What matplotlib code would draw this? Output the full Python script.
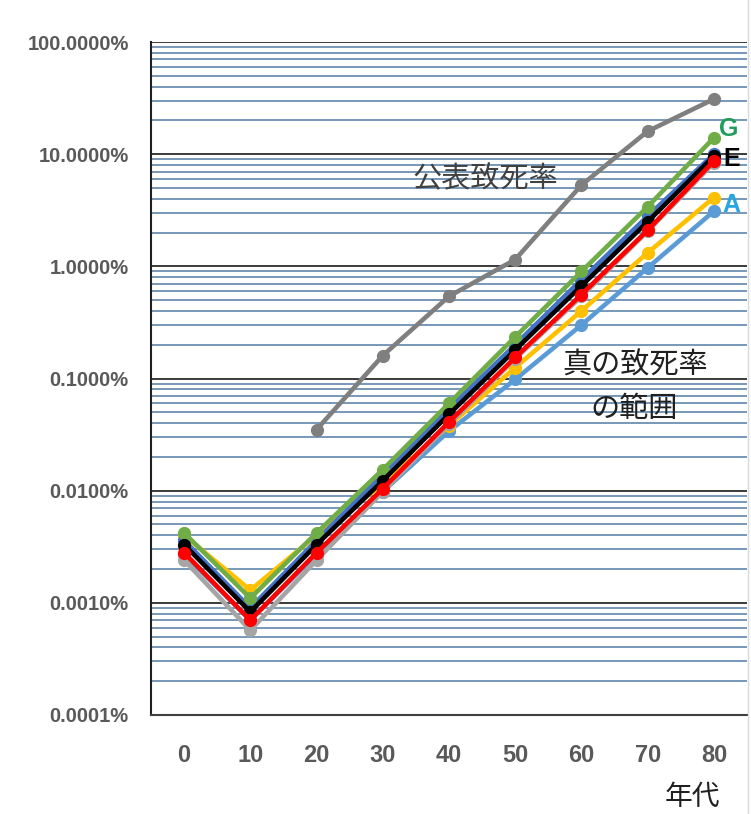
import matplotlib
matplotlib.use("Agg")
import matplotlib.pyplot as plt
from matplotlib.lines import Line2D
from matplotlib.ticker import FixedLocator, LogLocator, NullFormatter, FuncFormatter

ages = ["0", "10", "20", "30", "40", "50", "60", "70", "80"]

# values in percent
public_rate = [None, None, 0.035, 0.16, 0.54, 1.15, 5.3, 16.0, 31.0]
series_A = [0.0027, 0.0007, 0.0027, 0.0098, 0.034, 0.098, 0.30, 0.97, 3.1]
series_B = [0.0040, 0.0013, 0.0040, 0.0115, 0.038, 0.125, 0.40, 1.32, 4.1]
series_C = [0.0024, 0.00057, 0.0024, 0.0098, 0.039, 0.150, 0.54, 2.05, 8.4]
series_D = [0.0036, 0.0009, 0.0036, 0.0140, 0.054, 0.200, 0.76, 2.80, 10.0]
series_G = [0.0042, 0.0011, 0.0042, 0.0154, 0.060, 0.235, 0.90, 3.40, 14.0]
series_E = [0.0033, 0.00083, 0.0033, 0.0123, 0.048, 0.180, 0.67, 2.50, 9.6]
series_F = [0.0028, 0.0007, 0.0028, 0.0104, 0.041, 0.154, 0.56, 2.10, 8.7]

y_ticks = [0.0001, 0.001, 0.01, 0.1, 1, 10, 100]

W, H = 751, 814
fig = plt.figure(figsize=(W / 100, H / 100), dpi=100)
ax = fig.add_axes([151 / W, 99 / H, 596 / W, 673 / H])

x = list(range(len(ages)))
lw = 3.3
ms = 8.5

def plot_series(vals, color, z):
    xs = [i for i, v in zip(x, vals) if v is not None]
    ys = [v for v in vals if v is not None]
    ax.plot(xs, ys, color=color, lw=lw, marker="o", ms=ms, zorder=z,
            solid_joinstyle="round", clip_on=False)

plot_series(public_rate, "#7F7F7F", 3)
plot_series(series_A, "#5B9BD5", 4)
plot_series(series_B, "#FFC000", 5)
plot_series(series_C, "#A5A5A5", 6)
plot_series(series_D, "#4472C4", 7)
plot_series(series_G, "#70AD47", 8)
plot_series(series_E, "#000000", 9)
plot_series(series_F, "#FF0000", 10)

ax.set_yscale("log")
ax.set_ylim(0.0001, 100)
ax.set_xlim(-0.5, 8.5)

ax.yaxis.set_major_locator(FixedLocator(y_ticks))
ax.yaxis.set_minor_locator(LogLocator(base=10, subs=range(2, 10), numticks=20))
ax.yaxis.set_minor_formatter(NullFormatter())
ax.yaxis.set_major_formatter(FuncFormatter(lambda v, p: f"{v:.4f}%"))

ax.set_xticks(x)
ax.set_xticklabels(ages)

ax.grid(True, which="major", axis="y", color="#3A3A3A", lw=1.4, zorder=1)
ax.grid(True, which="minor", axis="y", color="#5F86AC", lw=1.2, zorder=1)
ax.set_axisbelow(True)

for s in ["top", "right"]:
    ax.spines[s].set_visible(False)
ax.spines["left"].set_color("#202020")
ax.spines["left"].set_linewidth(1.5)
ax.spines["bottom"].set_color("#404040")
ax.spines["bottom"].set_linewidth(1.5)

ax.tick_params(axis="both", which="both", length=0)
ax.tick_params(axis="y", pad=16, labelsize=14.5, labelcolor="#595959")
ax.tick_params(axis="x", pad=21, labelsize=17, labelcolor="#595959")
for lab in ax.get_yticklabels() + ax.get_xticklabels():
    lab.set_fontweight("bold")
    lab.set_family(["Liberation Sans", "DejaVu Sans"])

# chart border on the right
fig.add_artist(Line2D([748 / W, 748 / W], [0, 1], color="#D9D9D9", lw=1.0))

jp = ["Noto Sans CJK JP", "DejaVu Sans"]
fig.text(485 / W, 1 - 179 / H, "公表致死率", family=jp, fontsize=21,
         color="#404040", ha="center", va="center")
fig.text(635 / W, 1 - 366 / H, "真の致死率", family=jp, fontsize=21,
         color="#202020", ha="center", va="center")
fig.text(634 / W, 1 - 409 / H, "の範囲", family=jp, fontsize=21,
         color="#202020", ha="center", va="center")
fig.text(692 / W, 1 - 797 / H, "年代", family=jp, fontsize=20,
         color="#202020", ha="center", va="center")

fig.text(729 / W, 1 - 129 / H, "G", fontsize=18, fontweight="bold",
         color="#1E9E5A", ha="center", va="center", family=["Liberation Sans"])
fig.text(732 / W, 1 - 159 / H, "E", fontsize=18, fontweight="bold",
         color="#000000", ha="center", va="center", family=["Liberation Sans"])
fig.text(731 / W, 1 - 205 / H, "A", fontsize=18, fontweight="bold",
         color="#27A7E0", ha="center", va="center", family=["Liberation Sans"])

fig.savefig("out.png", dpi=100)
